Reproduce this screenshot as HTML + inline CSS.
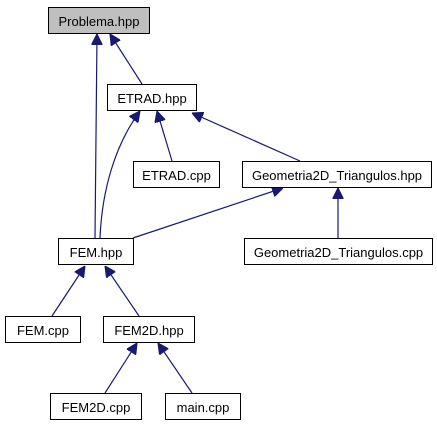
<!DOCTYPE html>
<html><head><style>
html,body{margin:0;padding:0;background:#fff;}
svg{display:block;}
text{font-family:"Liberation Sans",sans-serif;font-size:13px;fill:#000;}
</style></head><body>
<svg width="437" height="427" viewBox="0 0 437 427" xmlns="http://www.w3.org/2000/svg">
<defs>
<marker id="a" viewBox="0 0 10 10" refX="10" refY="5" markerWidth="11" markerHeight="11" markerUnits="userSpaceOnUse" orient="auto">
<path d="M0,0 L10,5 L0,10 z" fill="#191970" stroke="#191970"/>
</marker>
</defs>
<g stroke="#191970" stroke-width="1.2" fill="none" marker-end="url(#a)">
<path d="M95,238 L97,34"/>
<path d="M142,84 L110,34"/>
<path d="M100,238 C102,190 115,145 140,111"/>
<path d="M172,161 L157,111"/>
<path d="M300,161 L192,113"/>
<path d="M133,238 L283,188"/>
<path d="M338,238 L338,188"/>
<path d="M52,316 L85,266"/>
<path d="M139,316 L105,266"/>
<path d="M105,393 L137,343"/>
<path d="M192,393 L158,343"/>
</g>
<g stroke="#000" stroke-width="1">
<rect x="48.5" y="7.5" width="101" height="26" fill="#bfbfbf"/>
<rect x="107.5" y="84.5" width="89" height="26" fill="#fff"/>
<rect x="133.5" y="161.5" width="86" height="26" fill="#fff"/>
<rect x="242.5" y="161.5" width="189" height="26" fill="#fff"/>
<rect x="58.5" y="238.5" width="75" height="26" fill="#fff"/>
<rect x="244.5" y="238.5" width="188" height="26" fill="#fff"/>
<rect x="5.5" y="316.5" width="75" height="26" fill="#fff"/>
<rect x="103.5" y="316.5" width="91" height="26" fill="#fff"/>
<rect x="50.5" y="393.5" width="91" height="26" fill="#fff"/>
<rect x="165.5" y="393.5" width="75" height="26" fill="#fff"/>
</g>
<g text-anchor="middle">
<text x="99" y="26">Problema.hpp</text>
<text x="152" y="103">ETRAD.hpp</text>
<text x="176.5" y="180">ETRAD.cpp</text>
<text x="337" y="180">Geometria2D_Triangulos.hpp</text>
<text x="96" y="257">FEM.hpp</text>
<text x="338.5" y="257">Geometria2D_Triangulos.cpp</text>
<text x="43" y="335">FEM.cpp</text>
<text x="149" y="335">FEM2D.hpp</text>
<text x="96" y="412">FEM2D.cpp</text>
<text x="203" y="412">main.cpp</text>
</g>
</svg>
</body></html>
